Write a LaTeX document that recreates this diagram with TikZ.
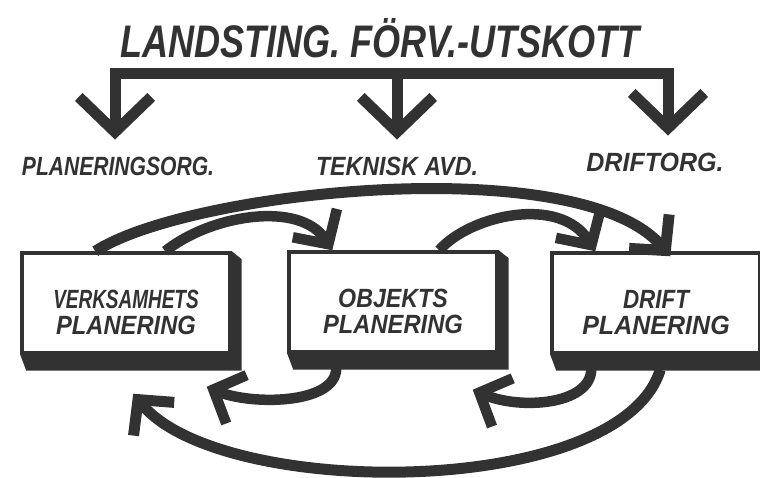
\documentclass[tikz,border=0pt]{standalone}
\usepackage{fontspec}
\newfontfamily\handfont{Liberation Sans}
\usetikzlibrary{arrows.meta,positioning,calc}
\definecolor{ink}{RGB}{50,50,50}
\newcommand{\squeeze}[2][0.85]{\scalebox{#1}[1]{#2}}
\newcommand{\lift}{\rule{0pt}{0.74cm}}
\tikzset{
  box/.style={draw=ink, line width=0.07cm, fill=white, minimum width=4.16cm,
              minimum height=2cm, inner sep=0pt, align=center, text=ink,
              font=\handfont\bfseries\itshape\fontsize{15}{14.5}\selectfont},
  orglab/.style={font=\handfont\bfseries\itshape\fontsize{15}{18}\selectfont,
                 text=ink, inner sep=1pt},
  ttl/.style={font=\handfont\bfseries\itshape\fontsize{26}{30}\selectfont, text=ink},
  trunk/.style={draw=ink, line width=0.22cm, line cap=rect},
  down/.style={ink, line width=0.22cm, -{Straight Barb[length=0.7cm,width=1.45cm]}},
  flow/.style={ink, line width=0.21cm, -{Straight Barb[length=0.5cm,width=1.05cm]}},
  shade/.style={fill=ink},
}
\begin{document}
\begin{tikzpicture}[x=0.02cm, y=-0.02cm]
  \useasboundingbox (0,0) rectangle (760,477);
  \clip (0,0) rectangle (760,477);
  % header and the three bodies under it
  \node[ttl] (title) at (380,38) {\squeeze[0.79]{LANDSTING. FÖRV.-UTSKOTT}};
  \node[orglab] (planorg) at (118,166) {\squeeze[0.8]{PLANERINGSORG.}};
  \node[orglab] (tekn) at (397,166) {\squeeze[0.88]{TEKNISK AVD.}};
  \node[orglab] (driftorg) at (655,162) {\squeeze[0.95]{DRIFTORG.}};
  \coordinate (barL) at (115,73);
  \coordinate (barR) at (668,73);
  \draw[trunk] (barL) -- (barR);
  \draw[down] (barL) -- ([yshift=0.3cm]barL |- planorg.north);
  \draw[down] (tekn.north |- barL) -- ([yshift=0.3cm]tekn.north);
  \draw[down] (barR) -- ([yshift=0.3cm]barR |- driftorg.north);
  % planning boxes
  \node[box] (verk) at (126,303) {\lift\squeeze[0.72]{VERKSAMHETS}\\\squeeze[0.9]{PLANERING}};
  \node[box] (obj) at (393,302) {\lift\squeeze[0.88]{OBJEKTS}\\\squeeze[0.9]{PLANERING}};
  \node[box] (drift) at (656,303) {\lift\squeeze[0.85]{DRIFT}\\\squeeze[0.95]{PLANERING}};
  \foreach \b in {verk,obj,drift}
    \fill[shade] (\b.south west) -- (\b.south east) -- (\b.north east)
      -- ([xshift=0.2cm,yshift=-0.16cm]\b.north east)
      -- ([xshift=0.2cm,yshift=-0.32cm]\b.south east)
      -- ([xshift=0.12cm,yshift=-0.32cm]\b.south west) -- cycle;
  % forward arrows over the top
  \draw[flow, line width=0.22cm] ([xshift=1.5cm]verk.north west)
    .. controls (190,190) and (580,150) .. ([xshift=2.4cm,yshift=-0.1cm]drift.north west);
  \draw[flow] ([xshift=2.9cm]verk.north west)
    .. controls (210,215) and (300,200) .. ([xshift=0.9cm]obj.north west);
  \draw[flow] ([xshift=3.04cm]obj.north west)
    .. controls (470,215) and (560,195) .. ([xshift=0.9cm]drift.north west);
  % feedback arrows underneath
  \draw[flow] ([xshift=0.98cm,yshift=-0.3cm]obj.south west)
    .. controls (335,405) and (250,405) .. ([xshift=-0.5cm,yshift=-0.64cm]verk.south east);
  \draw[flow] ([xshift=0.82cm,yshift=-0.3cm]drift.south west)
    .. controls (590,405) and (520,410) .. ([xshift=-0.52cm,yshift=-0.72cm]obj.south east);
  \draw[flow, line width=0.22cm] ([xshift=2.2cm,yshift=-0.3cm]drift.south west)
    .. controls (620,500) and (220,500) .. ([xshift=2.26cm,yshift=-0.78cm]verk.south west);
\end{tikzpicture}
\end{document}
